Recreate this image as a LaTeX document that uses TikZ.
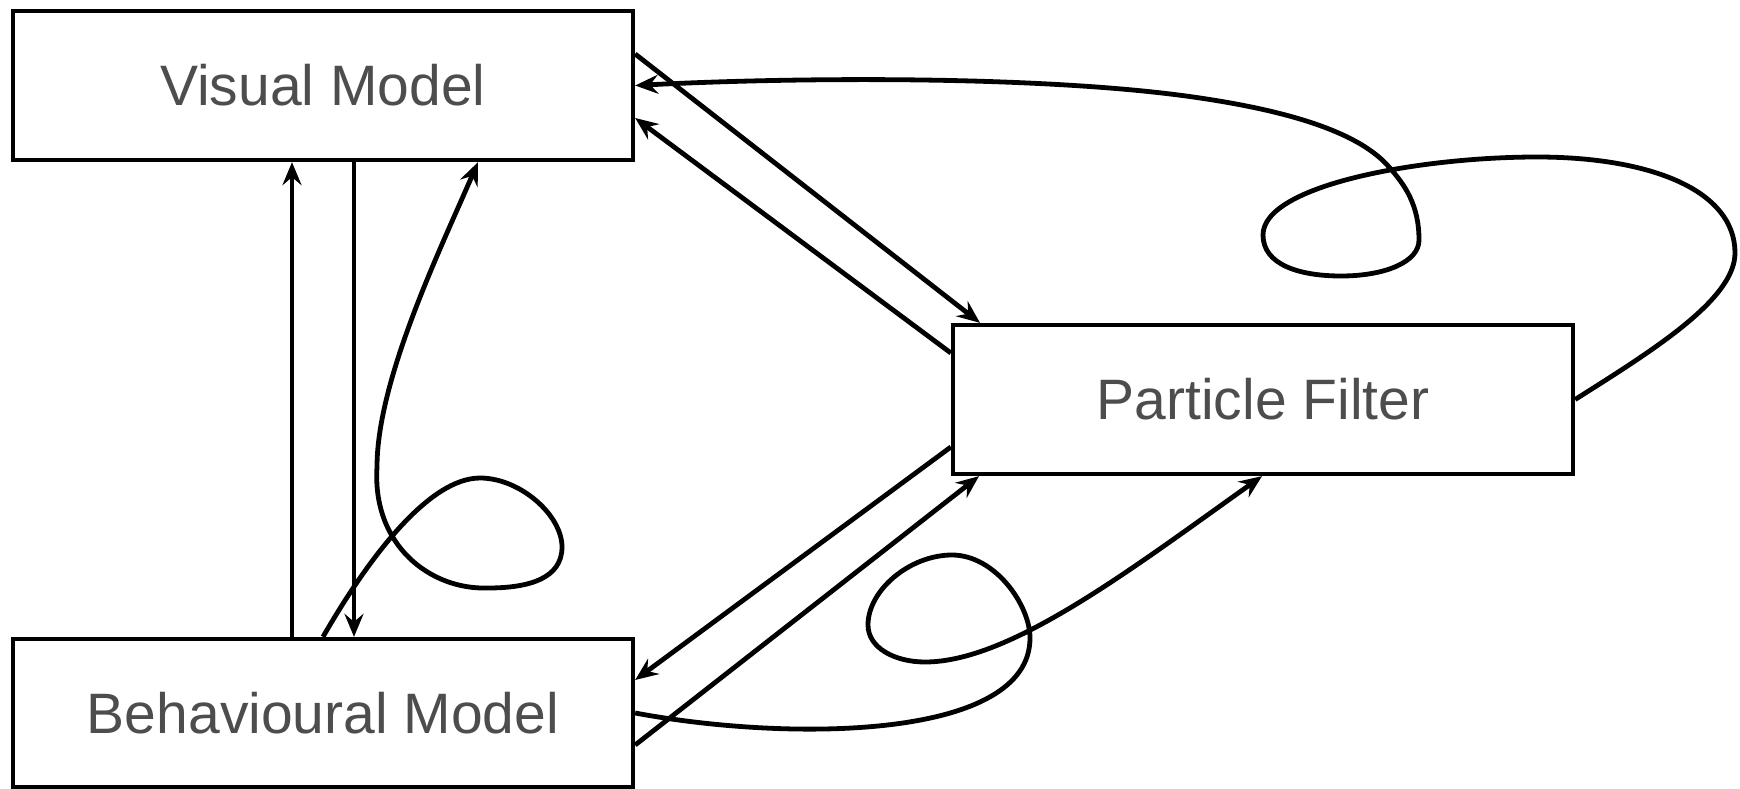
\documentclass[tikz,border=0pt]{standalone}
\usepackage{fontspec}
\setmainfont{Liberation Sans}
\usetikzlibrary{arrows.meta}
\definecolor{txt}{HTML}{4D4D4D}
\begin{document}
\begin{tikzpicture}[x=1pt,y=-1pt,
  box/.style={draw=black,line width=4.3pt,minimum width=620pt,minimum height=149pt,inner sep=0pt,
    text=txt,font=\fontsize{57pt}{60pt}\selectfont},
  conn/.style={line width=4.8pt,-{Stealth[length=23pt,width=19pt,inset=8pt]}}]
\useasboundingbox (0,0) rectangle (1740,789);
\node[box] (VM) at (323,85.5) {Visual Model};
\node[box,minimum height=148pt] (BM) at (323,713) {Behavioural Model};
\node[box] (PF) at (1263,399.5) {Particle Filter};
% straight connectors
\draw[conn] (VM.east |- 0,54) -- (980,0 |- PF.north);
\draw[conn] (PF.west |- 0,353) -- (VM.east |- 0,118);
\draw[conn] (PF.west |- 0,447) -- (BM.east |- 0,680);
\draw[conn] (BM.east |- 0,745) -- (979,0 |- PF.south);
\draw[conn] (292,0 |- BM.north) -- (292,0 |- VM.south);
\draw[conn] (354,0 |- VM.south) -- (354,0 |- BM.north);
% looped connector BM -> VM
\draw[conn] (323,0 |- BM.north) .. controls (370,555) and (430,478) .. (480,478)
  .. controls (520,478) and (562,515) .. (562,547)
  .. controls (562,578) and (530,588) .. (488,588)
  .. controls (430,590) and (372,545) .. (377,467)
  .. controls (377,380) and (440,250) .. (478,0 |- VM.south);
% looped connector BM -> PF
\draw[conn] (BM.east |- 0,713) .. controls (790,742) and (1030,740) .. (1030,638)
  .. controls (1030,605) and (995,555) .. (952,555)
  .. controls (910,555) and (868,590) .. (868,625)
  .. controls (868,648) and (895,662) .. (925,662)
  .. controls (1010,662) and (1130,570) .. (1262,0 |- PF.south);
% looped connector PF -> VM
\draw[conn] (PF.east) .. controls (1650,352) and (1735,300) .. (1735,253)
  .. controls (1735,190) and (1650,157) .. (1537,157)
  .. controls (1420,157) and (1263,185) .. (1263,235)
  .. controls (1263,265) and (1300,276) .. (1341,276)
  .. controls (1385,276) and (1419,262) .. (1419,240)
  .. controls (1419,205) and (1405,185) .. (1389,167)
  .. controls (1353,125) and (1260,107) .. (1200,98)
  .. controls (1050,75.5) and (800,77) .. (VM.east);
\end{tikzpicture}
\end{document}
